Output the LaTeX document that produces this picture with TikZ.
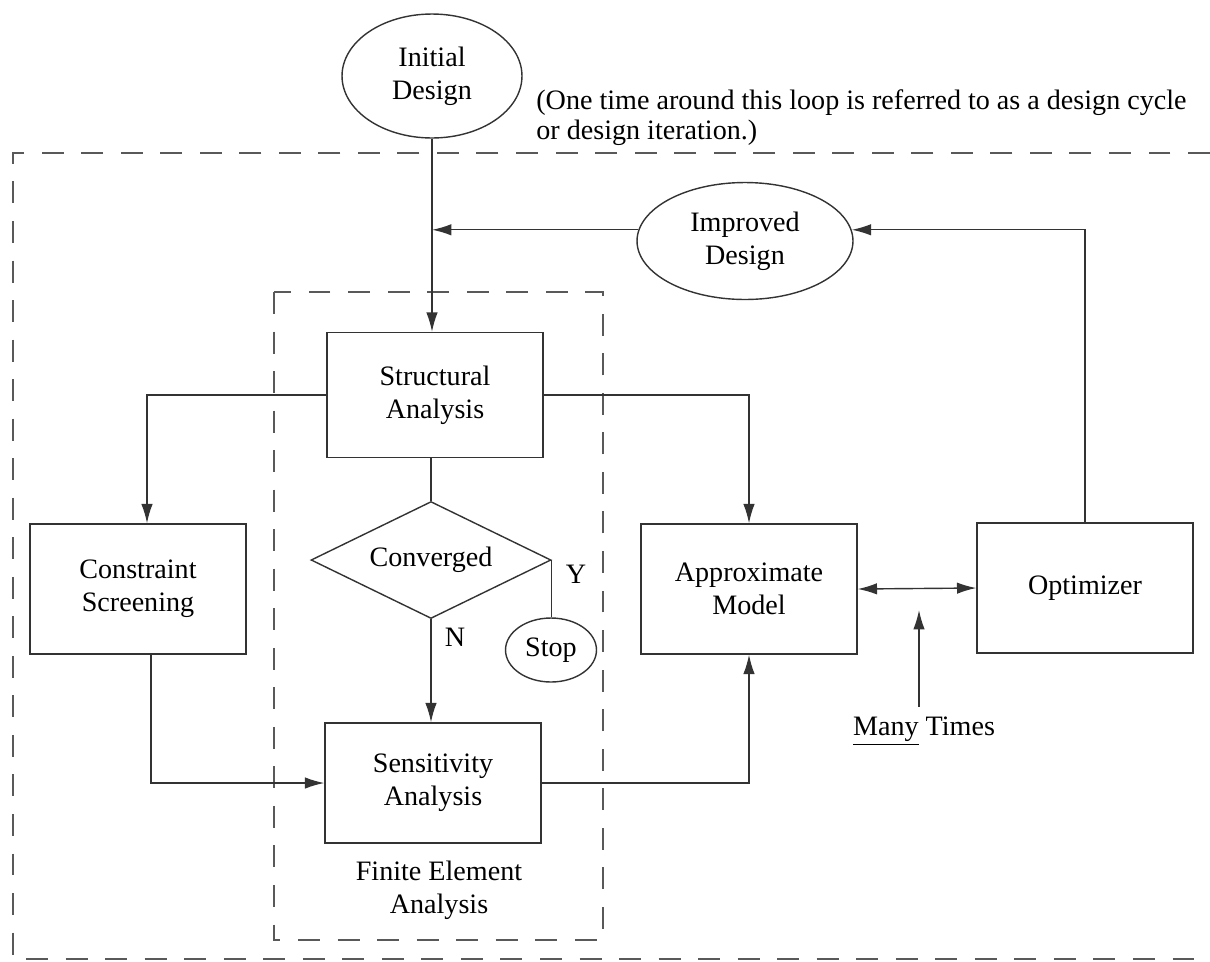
\documentclass[tikz,border=0pt]{standalone}
\usepackage{fontspec}
\setmainfont{Liberation Serif}
\usetikzlibrary{shapes.geometric,arrows.meta}

\begin{document}
\begin{tikzpicture}[x=0.02cm,y=-0.02cm,>={Latex[length=11pt,width=6.5pt]},
    every node/.style={font=\fontsize{16}{19}\selectfont, align=center, inner sep=0pt},
    blockbox/.style={draw=black!80, line width=0.8pt, rectangle, minimum width=4.32cm, minimum height=2.6cm},
    ovalnode/.style={draw=black!80, line width=0.8pt, ellipse},
    decision/.style={draw=black!80, line width=0.8pt, diamond, aspect=2, minimum width=4.8cm, minimum height=2.34cm},
    region/.style={draw=black!65, line width=0.8pt, dash pattern=on 12.5pt off 10pt},
    link/.style={draw=black!80, line width=0.8pt}]
        \useasboundingbox (0,0) rectangle (1210,961);

        % dashed loop regions
        \draw[region] (1210,153) -- (13,153) -- (13,959) -- (1210,959);
        \draw[region] (274,292) rectangle (603,940);

        \path
        % designs
        +(432,76)    node[ovalnode, minimum width=3.6cm, minimum height=2.48cm]  (init) {Initial\\Design}
        +(536,118)   node[anchor=west, align=left, font=\fontsize{16}{17}\selectfont]  (note) {(One time around this loop is referred to as a design cycle\\or design iteration.)}
        +(745,241)   node[ovalnode, minimum width=4.32cm, minimum height=2.34cm]  (improved) {Improved\\Design}
        % finite element analysis
        +(435,395)   node[blockbox, minimum height=2.5cm]  (struct) {Structural\\Analysis}
        +(431,560)   node[decision]  (conv) {Converged}
        +(551,650)   node[ovalnode, minimum width=1.82cm, minimum height=1.28cm]  (stop) {Stop}
        +(576,574)   node  (ylab) {Y}
        +(455,637)   node  (nlab) {N}
        +(433,783)   node[blockbox, minimum height=2.4cm]  (sens) {Sensitivity\\Analysis}
        +(439,890)   node  (fea) {Finite Element\\Analysis}
        % side blocks
        +(138,589)   node[blockbox]  (screen) {Constraint\\Screening}
        +(749,589)   node[blockbox]  (approx) {Approximate\\Model}
        +(1085,588)  node[blockbox]  (optim) {Optimizer}
        +(924,731)   node[inner ysep=0.2cm]  (many) {\underline{Many} Times};
        \coordinate (manytip) at (919,610);

        \draw[link,->] (init.south) -- (init.south |- struct.north);
        \draw[link,->] (improved.174) -- (improved.174 -| init.south);
        \draw[link,->] (optim.north) |- (improved.6);

        \draw[link,->] (struct.west) -| ([xshift=0.18cm]screen.north);
        \draw[link,->] (struct.east) -| (approx.north);
        \draw[link] (struct.south -| conv.north) -- (conv.north);
        \draw[link,->] (conv.south) -- (conv.south |- sens.north);
        \draw[link] (conv.east) -- (conv.east |- stop.north);

        \draw[link,->] ([xshift=0.26cm]screen.south) |- (sens.west);
        \draw[link,->] (sens.east) -| (approx.south);
        \draw[link,<->] (approx.east) -- (optim.west);
        \draw[link,->] (many.north -| manytip) -- (manytip);
    \end{tikzpicture}
\end{document}
